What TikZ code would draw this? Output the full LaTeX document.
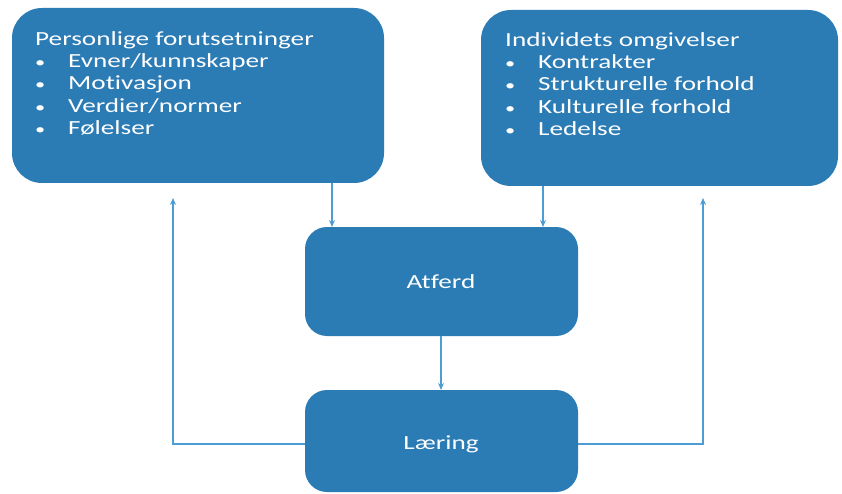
\documentclass[tikz,border=0pt]{standalone}
\usepackage{fontspec}
\setmainfont{Carlito}[FakeStretch=1.36, Ligatures={NoCommon}]
\usetikzlibrary{arrows.meta}
\definecolor{boxblue}{HTML}{2B7BB5}
\definecolor{lineblue}{HTML}{4C9DD3}
\newcommand{\itemdot}{\makebox[33pt][l]{\fontsize{15}{15}\selectfont•}}
\begin{document}
\begin{tikzpicture}[x=1pt,y=-1pt,
  panel/.style={fill=boxblue, draw=none, rounded corners=#1},
  panel/.default=30pt,
  label/.style={text=white, font=\fontsize{20}{22.4}\selectfont, inner sep=0pt},
  list/.style={label, align=left, anchor=north west},
  link/.style={draw=lineblue, line width=1.4pt, -{Stealth[length=7pt,width=6pt]}},
]
\useasboundingbox (0,0) rectangle (842,494);

% two context boxes at the top
\path[panel] (12,8) rectangle (384,183);
\path[panel] (481,10) rectangle (838,186);

% behaviour and learning boxes
\path[panel=22pt] (305,227) rectangle (578,336);
\node (atf) [label] at (441,282) {Atferd};
\path[panel=22pt] (305,390) rectangle (578,492);
\node (lae) [label] at (441,444) {Læring};

% box texts
\node (pftext) [list] at (35,31) {Personlige forutsetninger\\
  \itemdot Evner/kunnskaper\\
  \itemdot Motivasjon\\
  \itemdot Verdier/normer\\
  \itemdot Følelser};
\node (omtext) [list] at (505,32) {Individets omgivelser\\
  \itemdot Kontrakter\\
  \itemdot Strukturelle forhold\\
  \itemdot Kulturelle forhold\\
  \itemdot Ledelse};

% connector anchors on box edges
\coordinate (pfBot) at (332,183);
\coordinate (omBot) at (543,186);
\coordinate (atfTopL) at (332,227);
\coordinate (atfTopR) at (543,227);
\coordinate (atfBot) at (441,336);
\coordinate (laeTop) at (441,390);
\coordinate (laeL) at (305,444);
\coordinate (laeR) at (578,444);
\coordinate (pfUp) at (173,198);
\coordinate (omUp) at (703,198);

\draw[link] (pfBot) -- (atfTopL);
\draw[link] (omBot) -- (atfTopR);
\draw[link] (atfBot) -- (laeTop);
\draw[link] (laeL) -| (pfUp);
\draw[link] (laeR) -| (omUp);
\end{tikzpicture}
\end{document}
